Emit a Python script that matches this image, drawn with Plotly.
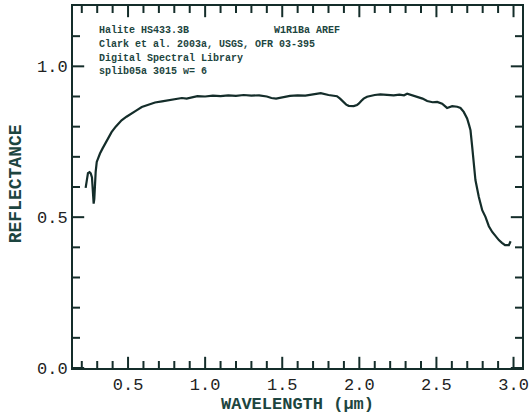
import plotly.graph_objects as go

# ---------------------------------------------------------------------------
# Data — Halite HS433.3B reflectance spectrum
# ---------------------------------------------------------------------------

wavelength = [
    0.225, 0.232, 0.240, 0.250, 0.258, 0.266, 0.272, 0.277, 0.281, 0.285,
    0.290, 0.297, 0.305, 0.318, 0.335, 0.351, 0.370, 0.393, 0.420, 0.458,
    0.490, 0.524, 0.555, 0.589, 0.630, 0.675, 0.720, 0.762, 0.800, 0.849,
    0.880, 0.914, 0.950, 1.000, 1.050, 1.100, 1.150, 1.200, 1.250, 1.300,
    1.350, 1.400, 1.430, 1.460, 1.500, 1.550, 1.600, 1.650, 1.700, 1.750,
    1.800, 1.855, 1.875, 1.898, 1.915, 1.931, 1.963, 1.985, 1.996, 2.012,
    2.028, 2.050, 2.071, 2.100, 2.136, 2.180, 2.223, 2.260, 2.290, 2.310,
    2.340, 2.375, 2.410, 2.440, 2.475, 2.505, 2.537, 2.569, 2.602, 2.635,
    2.656, 2.677, 2.699, 2.712, 2.721, 2.732, 2.742, 2.753, 2.775, 2.797,
    2.818, 2.840, 2.862, 2.883, 2.905, 2.925, 2.945, 2.970, 2.981,
]

reflectance = [
    0.597, 0.630, 0.646, 0.649, 0.645, 0.632, 0.590, 0.545, 0.560, 0.610,
    0.650, 0.683, 0.697, 0.711, 0.728, 0.744, 0.763, 0.782, 0.800, 0.821,
    0.833, 0.843, 0.854, 0.865, 0.873, 0.880, 0.884, 0.887, 0.891, 0.895,
    0.893, 0.898, 0.901, 0.900, 0.903, 0.901, 0.904, 0.902, 0.905, 0.903,
    0.904, 0.900, 0.895, 0.893, 0.897, 0.902, 0.904, 0.903, 0.907, 0.911,
    0.905, 0.901, 0.893, 0.882, 0.873, 0.869, 0.868, 0.872, 0.876, 0.885,
    0.893, 0.899, 0.902, 0.905, 0.907, 0.905, 0.904, 0.906, 0.904, 0.909,
    0.904, 0.898, 0.893, 0.885, 0.881, 0.882, 0.876, 0.862, 0.868, 0.866,
    0.862, 0.849, 0.827, 0.805, 0.788, 0.733, 0.678, 0.623, 0.567, 0.523,
    0.501, 0.470, 0.451, 0.437, 0.424, 0.415, 0.407, 0.407, 0.420,
]

x_range = [0.143, 3.055]
y_range = [0, 1.2]

# tick positions (major ones are labelled)
x_major = [0.5, 1.0, 1.5, 2.0, 2.5, 3.0]
x_minor = [0.2, 0.3, 0.4, 0.6, 0.7, 0.8, 0.9, 1.1, 1.2, 1.3, 1.4, 1.6, 1.7,
           1.8, 1.9, 2.1, 2.2, 2.3, 2.4, 2.6, 2.7, 2.8, 2.9]
y_major = [0.0, 0.5, 1.0]
y_minor = [0.1, 0.2, 0.3, 0.4, 0.6, 0.7, 0.8, 0.9, 1.1]

header_lines = [
    "Halite HS433.3B",
    "Clark et al. 2003a, USGS, OFR 03-395",
    "Digital Spectral Library",
    "splib05a 3015 w= 6",
]
header_right = "W1R1Ba AREF"

# ---------------------------------------------------------------------------
# Style
# ---------------------------------------------------------------------------

INK = "#142d2a"
TEAL = "#1d4540"
MONO = "Liberation Mono, Courier New, monospace"

main_axis = dict(
    showline=True,
    linewidth=2,
    linecolor=INK,
    mirror=True,
    ticks="",
    showgrid=False,
    zeroline=False,
    automargin=False,
    tickformat=".1f",
    tickfont=dict(family=MONO, size=17, color="#222222"),
)


def tick_marks(xs, ys, symbol, length):
    """Inward tick marks: a line marker centred on the frame, outer half clipped away."""
    return go.Scatter(
        x=xs, y=ys,
        mode="markers",
        marker=dict(symbol=symbol, size=2 * length, color=INK,
                    line=dict(width=2, color=INK)),
        cliponaxis=True,
        hoverinfo="skip",
        showlegend=False,
    )


fig = go.Figure()

fig.add_trace(go.Scatter(
    x=wavelength,
    y=reflectance,
    mode="lines",
    line=dict(color=INK, width=2.2),
    hoverinfo="skip",
    showlegend=False,
))

# ticks on all four sides of the frame
for xs, n in ((x_major, 8), (x_minor, 5)):
    fig.add_trace(tick_marks(xs * 2, [y_range[0]] * len(xs) + [y_range[1]] * len(xs), "line-ns", n))
for ys, n in ((y_major, 8), (y_minor, 5)):
    fig.add_trace(tick_marks([x_range[0]] * len(ys) + [x_range[1]] * len(ys), ys * 2, "line-ew", n))

# Header text block in the upper-left of the plot
annotations = []
line_y = [1.119, 1.073, 1.026, 0.983]
for txt, yy in zip(header_lines, line_y):
    annotations.append(dict(
        x=0.3, y=yy, xref="x", yref="y",
        text=f"<b>{txt}</b>", showarrow=False,
        xanchor="left", yanchor="middle",
        font=dict(family=MONO, size=10, color=TEAL),
    ))
annotations.append(dict(
    x=1.435, y=line_y[0], xref="x", yref="y",
    text=f"<b>{header_right}</b>", showarrow=False,
    xanchor="left", yanchor="middle",
    font=dict(family=MONO, size=10, color=TEAL),
))

# axis titles
annotations.append(dict(
    x=0.5, y=-0.102, xref="paper", yref="paper",
    text="<b>WAVELENGTH (\u03bcm)</b>", showarrow=False,
    xanchor="center", yanchor="middle",
    font=dict(family=MONO, size=17, color=TEAL),
))
annotations.append(dict(
    x=-0.125, y=0.51, xref="paper", yref="paper",
    text="<b>REFLECTANCE</b>", showarrow=False, textangle=-90,
    xanchor="center", yanchor="middle",
    font=dict(family=MONO, size=18, color=TEAL),
))

fig.update_layout(
    width=530,
    height=419,
    margin=dict(l=73, r=8, t=6, b=51),
    paper_bgcolor="white",
    plot_bgcolor="white",
    xaxis=dict(range=x_range, tickvals=x_major, **main_axis),
    yaxis=dict(range=y_range, tickvals=y_major, **main_axis),
    annotations=annotations,
    showlegend=False,
)

# the page body has a default 8px margin; drop it so the figure sits at 0,0
fig.write_html(
    "out.html",
    config={"displayModeBar": False},
    post_script="document.body.style.margin='0';",
)
